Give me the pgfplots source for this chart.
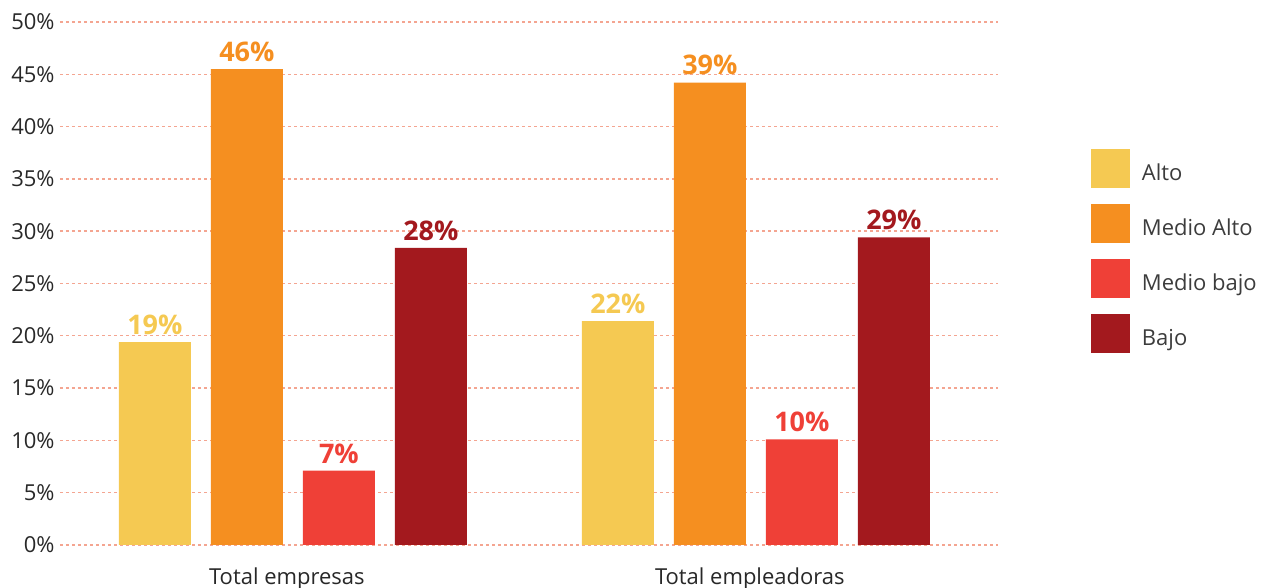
\documentclass[border=0pt]{standalone}
\usepackage{fontspec}
\setmainfont{Open Sans}
\usepackage{pgfplots}
\pgfplotsset{compat=1.18}
\definecolor{calto}{RGB}{245,201,82}
\definecolor{cmalto}{RGB}{245,143,32}
\definecolor{cmbajo}{RGB}{239,64,55}
\definecolor{cbajo}{RGB}{163,25,30}
\definecolor{gridc}{RGB}{244,165,145}
\definecolor{txt}{RGB}{40,40,40}
\definecolor{legtxt}{RGB}{60,60,60}

\begin{document}
\begin{tikzpicture}
\begin{axis}[
    name=ax, at={(0,0)}, anchor=south west,
    scale only axis, width=469pt, height=261.5pt,
    xmin=-0.503, xmax=1.523, ymin=0, ymax=50,
    ybar=10pt, bar width=36pt,
    axis line style={draw=none},
    major tick length=0pt,
    ytick={0,5,...,50},
    yticklabel={\pgfmathprintnumber{\tick}\%},
    /pgf/number format/assume math mode=true,
    yticklabel style={font=\fontsize{11}{13}\selectfont, text=txt, inner sep=0pt, xshift=-2.5pt},
    xtick={0,1}, xticklabels={Total empresas, Total empleadoras},
    xticklabel style={font=\fontsize{11}{13}\selectfont, text=txt, inner sep=0pt, anchor=north, yshift=-11pt, xshift=-3pt},
    ymajorgrids, grid style={gridc, line width=0.7pt, dash pattern=on 1.5pt off 1.5pt},
    nodes near coords={\pgfplotspointmeta}, point meta=explicit symbolic,
    nodes near coords style={font=\bfseries\fontsize{13.5}{15}\selectfont, anchor=south, inner sep=0pt, yshift=3.5pt},
    legend image code/.code={\fill[#1] (0pt,-7pt) rectangle (19.5pt,12.5pt);},
    legend style={at={(rel axis cs:1.0991,0.7572)}, anchor=north west, draw=none, fill=none,
        inner sep=0pt, outer sep=0pt, row sep=8pt,
        font=\fontsize{11}{13}\selectfont, text=legtxt,
        nodes={inner sep=0pt},
        /tikz/every odd column/.append style={column sep=6pt}},
    legend cell align=left,
]
\addplot[fill=calto, draw=none, every node near coord/.append style={text=calto}]
    coordinates {(0,19.4) [19\%] (1,21.4) [22\%]};
\addplot[fill=cmalto, draw=none, every node near coord/.append style={text=cmalto}]
    coordinates {(0,45.5) [46\%] (1,44.2) [39\%]};
\addplot[fill=cmbajo, draw=none, every node near coord/.append style={text=cmbajo}]
    coordinates {(0,7.1) [7\%] (1,10.1) [10\%]};
\addplot[fill=cbajo, draw=none, every node near coord/.append style={text=cbajo}]
    coordinates {(0,28.4) [28\%] (1,29.4) [29\%]};
\legend{Alto, Medio Alto, Medio bajo, Bajo}
\end{axis}
\pgfresetboundingbox
\useasboundingbox (-30pt,-21.5pt) rectangle (605.5pt,272.5pt);
\end{tikzpicture}
\end{document}
